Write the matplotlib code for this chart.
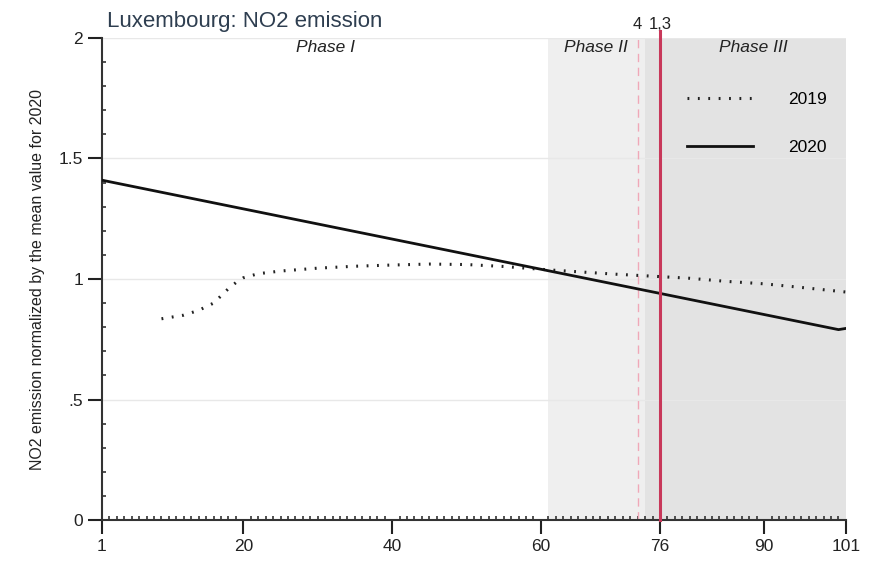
import matplotlib.pyplot as plt
from matplotlib.ticker import MultipleLocator

# 2019 series (days, normalised NO2)
days_2019 = [9, 12, 14, 16, 17, 18, 19, 20, 22, 25, 30, 35, 40, 45, 50, 55, 61, 66, 70, 76, 80, 85, 90, 95, 101]
no2_2019 = [0.835, 0.85, 0.87, 0.90, 0.93, 0.96, 0.985, 1.005, 1.022, 1.033, 1.045, 1.053, 1.058, 1.062, 1.060,
            1.052, 1.038, 1.028, 1.02, 1.010, 1.003, 0.99, 0.98, 0.965, 0.946]

# 2020 series
days_2020 = [1, 100, 101]
no2_2020 = [1.41, 0.79, 0.795]

phase_names = ['Phase I', 'Phase II', 'Phase III']
phase_text_x = [31, 67.4, 88.5]
phase2_span = (61, 74)
phase3_span = (74, 101)
event_days = [73, 76]
event_labels = ['4', '1,3']

xticks = [1, 20, 40, 60, 76, 90, 101]
yticks = [0, 0.5, 1, 1.5, 2]
ytick_labels = ['0', '.5', '1', '1.5', '2']

plt.rcParams['font.family'] = ['Liberation Sans', 'DejaVu Sans']

fig = plt.figure(figsize=(8.73, 5.62), dpi=100)
ax = fig.add_axes([0.1168, 0.0747, 0.8522, 0.8577])

ax.axvspan(*phase2_span, color='#efefef', lw=0, zorder=0)
ax.axvspan(*phase3_span, color='#e3e3e3', lw=0, zorder=0)

for yv in yticks[1:]:
    ax.axhline(yv, color='#e8e8e8', lw=1, zorder=1)

ax.plot(days_2019, no2_2019, color='#222222', lw=2.2, linestyle=(0, (0.6, 2.8)), label='2019', zorder=3)
ax.plot(days_2020, no2_2020, color='#111111', lw=2, label='2020', zorder=3)

ax.axvline(event_days[0], color='#f0a8b8', lw=1, linestyle=(0, (6, 4)), zorder=2)
ax.axvline(event_days[1], ymin=0, ymax=1.015, color='#c8385a', lw=2.2, zorder=4, clip_on=False)
for d, lab in zip(event_days, event_labels):
    ax.text(d, 2.025, lab, ha='center', va='bottom', fontsize=12, color='#222222')

for name, px in zip(phase_names, phase_text_x):
    ax.text(px, 1.99, name, ha='center', va='top', fontsize=12.5, style='italic', color='#222222')

ax.set_xlim(1, 101)
ax.set_ylim(0, 2)
ax.set_xticks(xticks)
ax.set_yticks(yticks)
ax.set_yticklabels(ytick_labels)
ax.xaxis.set_minor_locator(MultipleLocator(1))
ax.yaxis.set_minor_locator(MultipleLocator(0.1))
ax.tick_params(axis='both', which='major', direction='out', length=10, width=1.5, labelsize=12.5, colors='#222222')
ax.tick_params(axis='both', which='minor', direction='in', length=3, width=1.2, colors='#333333')
ax.tick_params(axis='x', pad=4)

for s in ['top', 'right']:
    ax.spines[s].set_visible(False)
for s in ['left', 'bottom']:
    ax.spines[s].set_color('#333333')
    ax.spines[s].set_linewidth(1.5)

ax.set_ylabel('NO2 emission normalized by the mean value for 2020', fontsize=11.5, color='#222222', labelpad=10)
fig.text(0.1226, 0.961, 'Luxembourg: NO2 emission', fontsize=16, color='#2e3e50', ha='left', va='center')

ax.legend(loc='upper right', bbox_to_anchor=(0.995, 0.92), frameon=False, fontsize=12.5,
          handlelength=3.8, labelspacing=1.9, handletextpad=2.0)

fig.savefig('out.png', dpi=100, facecolor='white')
